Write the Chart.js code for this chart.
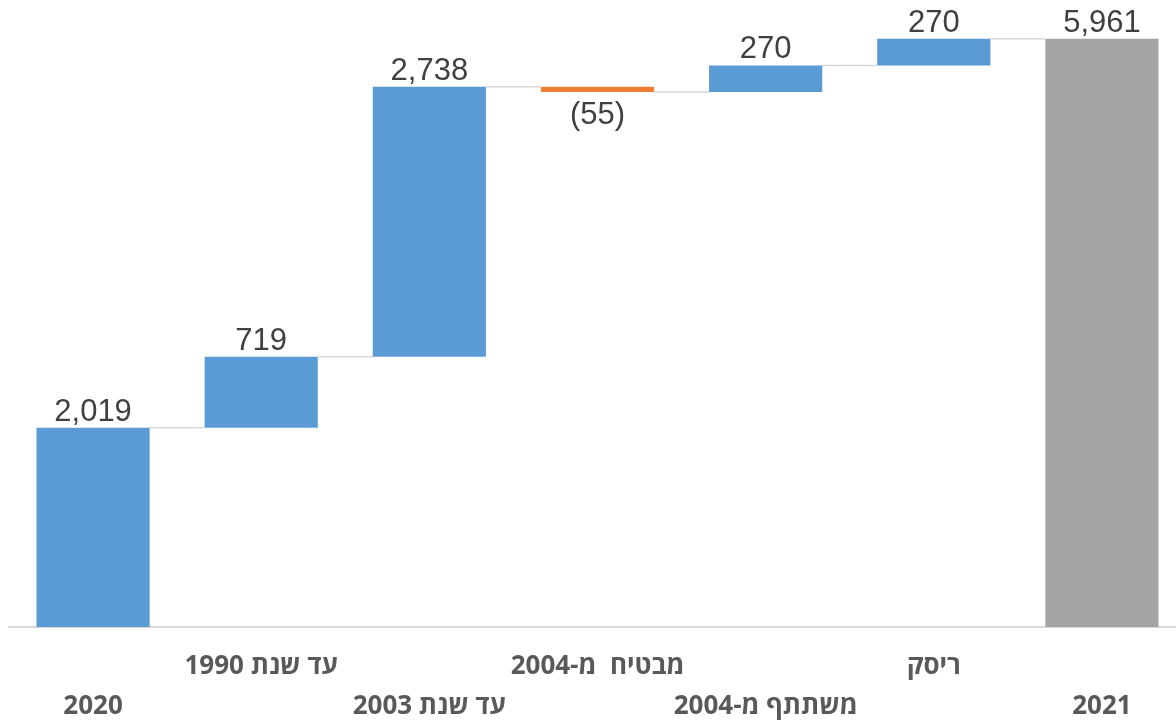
<!DOCTYPE html>
<html>
<head>
<meta charset="utf-8">
<script src="https://cdn.jsdelivr.net/npm/chart.js@4"></script>
<style>
  html, body { margin: 0; padding: 0; background: #fff; overflow: hidden; }
  #wrap { width: 1186px; height: 746px; }
</style>
</head>
<body>
<div id="wrap"><canvas id="WaterfallBox"></canvas></div>
<script>
        // categories as they appear left to right
        const categories = ['2020', 'עד שנת 1990', 'עד שנת 2003', 'מבטיח  מ-2004', 'משתתף מ-2004', 'ריסק', '2021'];
        // value of each step (totals for first and last)
        const changes = [2019, 719, 2738, -55, 270, 270, 5961];
        const isTotal = [true, false, false, false, false, false, true];

        // build floating bars from running total
        const ranges = [];
        let running = 0;
        changes.forEach(function (v, i) {
            if (isTotal[i]) {
                ranges.push([0, v]);
                running = v;
            } else {
                ranges.push([running, running + v]);
                running += v;
            }
        });

        const barColors = changes.map(function (v, i) {
            if (i === changes.length - 1) return '#A5A5A5';
            return v < 0 ? '#ED7D31' : '#5B9BD5';
        });

        // labels alternate between two rows under the axis
        const axisLabels = categories.map(function (c, i) {
            return i % 2 === 0 ? ['', c] : [c, ''];
        });

        function fmt(v) {
            const s = Math.abs(v).toLocaleString('en-US');
            return v < 0 ? '(' + s + ')' : s;
        }

        const connectorPlugin = {
            id: 'connectors',
            beforeDatasetsDraw(chart) {
                const ctx = chart.ctx;
                const bars = chart.getDatasetMeta(0).data;
                const y = chart.scales.y;
                ctx.save();
                ctx.strokeStyle = '#D9D9D9';
                ctx.lineWidth = 1.5;
                for (let i = 0; i < bars.length - 1; i++) {
                    const level = y.getPixelForValue(ranges[i][1]);
                    ctx.beginPath();
                    ctx.moveTo(bars[i].x + bars[i].width / 2, level);
                    ctx.lineTo(bars[i + 1].x - bars[i + 1].width / 2, level);
                    ctx.stroke();
                }
                ctx.restore();
            }
        };

        const valueLabelPlugin = {
            id: 'valueLabels',
            afterDatasetsDraw(chart) {
                const ctx = chart.ctx;
                const bars = chart.getDatasetMeta(0).data;
                const y = chart.scales.y;
                ctx.save();
                ctx.font = '31px "Liberation Sans", Arial, sans-serif';
                ctx.fillStyle = '#404040';
                ctx.textAlign = 'center';
                ctx.textBaseline = 'alphabetic';
                bars.forEach(function (bar, i) {
                    const v = changes[i];
                    const top = y.getPixelForValue(Math.max(ranges[i][0], ranges[i][1]));
                    const bottom = y.getPixelForValue(Math.min(ranges[i][0], ranges[i][1]));
                    if (v < 0) {
                        ctx.fillText(fmt(v), bar.x, bottom + 32);
                    } else {
                        ctx.fillText(fmt(v), bar.x, top - 7);
                    }
                });
                ctx.restore();
            }
        };

        const WaterfallConfig = {
            type: 'bar',
            data: {
                labels: axisLabels,
                datasets: [{
                    data: ranges,
                    backgroundColor: barColors,
                    borderWidth: 0,
                    barPercentage: 0.673,
                    categoryPercentage: 1
                }]
            },
            options: {
                responsive: true,
                maintainAspectRatio: false,
                animation: false,
                layout: { padding: { left: 9, right: 0, top: 35, bottom: 0 } },
                scales: {
                    x: {
                        grid: { display: false, drawTicks: false },
                        border: { display: true, color: '#D9D9D9', width: 2 },
                        ticks: {
                            padding: 20,
                            color: '#595959',
                            font: { family: '"Open Sans", "Liberation Sans", sans-serif', size: 26, weight: 'bold', lineHeight: 1.52 },
                            maxRotation: 0,
                            autoSkip: false
                        }
                    },
                    y: {
                        display: false,
                        min: 0,
                        max: 6000
                    }
                },
                plugins: {
                    legend: { display: false },
                    tooltip: { enabled: false }
                }
            },
            plugins: [connectorPlugin, valueLabelPlugin]
        };

        window.onload = function () {
            const ctx = document.getElementById('WaterfallBox').getContext('2d');
            new Chart(ctx, WaterfallConfig);
        };
</script>
</body>
</html>
